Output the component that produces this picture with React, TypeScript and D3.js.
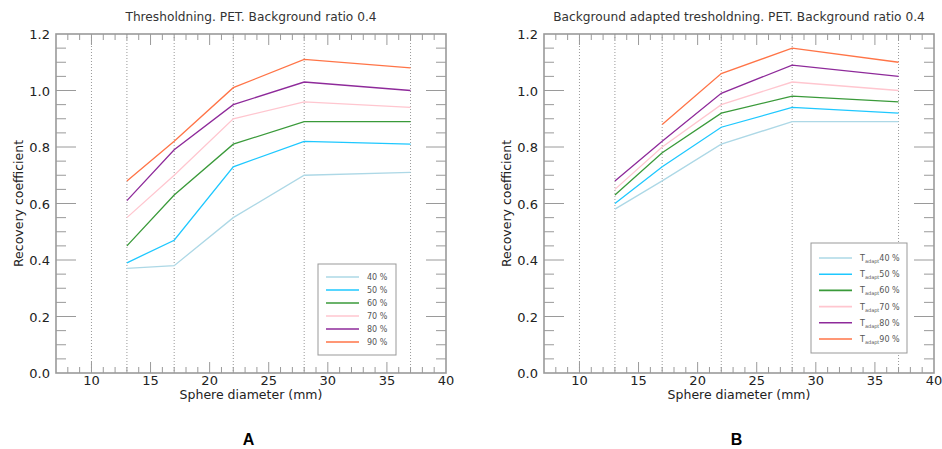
import * as d3 from 'd3';
import React from 'react';

const diameters = [13, 17, 22, 28, 37];
const gridLines = [10, 13, 17, 22, 28, 37];
const levels = ['40 %', '50 %', '60 %', '70 %', '80 %', '90 %'];
const colors = ['#add8e6', '#1ec8ff', '#3a9a3a', '#ffc6cf', '#8e2a9a', '#ff7447'];

// Panel A: fixed thresholding
const thrValues = [
    [0.37, 0.38, 0.55, 0.70, 0.71],
    [0.39, 0.47, 0.73, 0.82, 0.81],
    [0.45, 0.63, 0.81, 0.89, 0.89],
    [0.55, 0.70, 0.90, 0.96, 0.94],
    [0.61, 0.79, 0.95, 1.03, 1.00],
    [0.68, 0.82, 1.01, 1.11, 1.08],
];

// Panel B: background adapted thresholding (90 % has no value at 13 mm)
const adaptValues = [
    [0.58, 0.68, 0.81, 0.89, 0.89],
    [0.60, 0.73, 0.87, 0.94, 0.92],
    [0.63, 0.78, 0.92, 0.98, 0.96],
    [0.65, 0.80, 0.95, 1.03, 1.00],
    [0.68, 0.82, 0.99, 1.09, 1.05],
    [null, 0.88, 1.06, 1.15, 1.10],
];

const xTicks = [10, 15, 20, 25, 30, 35, 40];
const yTicks = [0, 0.2, 0.4, 0.6, 0.8, 1.0, 1.2];

const FONT = 'DejaVu Sans, Verdana, sans-serif';

function Panel({ left, title, values, adapted, legend, letter }) {
    const top = 34, bottom = 373, width = 390;
    const x = d3.scaleLinear().domain([7, 40]).range([left, left + width]);
    const y = d3.scaleLinear().domain([0, 1.2]).range([bottom, top]);
    const line = d3.line()
        .defined(d => d[1] != null)
        .x(d => x(d[0]))
        .y(d => y(d[1]));

    const minorX = d3.range(8, 40);
    const minorY = d3.range(0.05, 1.2, 0.05);
    const axisGray = '#9a9a9a';

    return (
        <g>
            <text x={x(23.5)} y={21} textAnchor="middle" fontSize={12.2} fill="#333" fontFamily={FONT}>{title}</text>
            {gridLines.map(g => (
                <line key={'g' + g} x1={x(g)} x2={x(g)} y1={top} y2={bottom}
                    stroke="#999" strokeWidth={1} strokeDasharray="1,2" />
            ))}
            {minorX.map(t => {
                const major = t % 5 === 0;
                const len = major ? 11 : 6;
                return (
                    <g key={'mx' + t}>
                        <line x1={x(t)} x2={x(t)} y1={bottom} y2={bottom - len} stroke={axisGray} />
                        <line x1={x(t)} x2={x(t)} y1={top} y2={top + len} stroke={axisGray} />
                    </g>
                );
            })}
            {minorY.map((t, i) => {
                const major = (i + 1) % 4 === 0;
                const len = major ? 20 : 10;
                return (
                    <g key={'my' + i}>
                        <line x1={left} x2={left + len} y1={y(t)} y2={y(t)} stroke={axisGray} />
                        <line x1={left + width} x2={left + width - len} y1={y(t)} y2={y(t)} stroke={axisGray} />
                    </g>
                );
            })}
            <rect x={left} y={top} width={width} height={bottom - top} fill="none" stroke={axisGray} strokeWidth={1.6} />
            {values.map((row, i) => (
                <path key={'s' + i} d={line(diameters.map((dm, j) => [dm, row[j]]))}
                    fill="none" stroke={colors[i]} strokeWidth={1.3} />
            ))}
            {xTicks.map(t => (
                <text key={'xt' + t} x={x(t)} y={385} textAnchor="middle" fontSize={13} fill="#222" fontFamily={FONT}>{t}</text>
            ))}
            {yTicks.map(t => (
                <text key={'yt' + t} x={left - 6} y={y(t) + 5} textAnchor="end" fontSize={13} fill="#222" fontFamily={FONT}>{t.toFixed(1)}</text>
            ))}
            <text x={x(23.5)} y={399} textAnchor="middle" fontSize={12.5} fill="#222" fontFamily={FONT}>Sphere diameter (mm)</text>
            <text transform={`translate(${left - 33},${y(0.6)}) rotate(-90)`} textAnchor="middle" fontSize={12.5} fill="#222" fontFamily={FONT}>Recovery coefficient</text>
            <g>
                <rect x={legend.x} y={legend.y} width={legend.w} height={legend.h} fill="#fff" stroke="#999" strokeWidth={1} />
                {levels.map((lv, i) => {
                    const ly = legend.y + legend.first + i * legend.step;
                    return (
                        <g key={'l' + i}>
                            <line x1={legend.x + 8} x2={legend.x + 41} y1={ly} y2={ly} stroke={colors[i]} strokeWidth={1.6} />
                            {adapted ? (
                                <text x={legend.x + 49} y={ly + 3} fontSize={8} fill="#555" fontFamily={FONT}>
                                    T<tspan fontSize={5} dy={2}>adapt</tspan><tspan dy={-2}>{lv}</tspan>
                                </text>
                            ) : (
                                <text x={legend.x + 49} y={ly + 3} fontSize={8} fill="#555" fontFamily={FONT}>{lv}</text>
                            )}
                        </g>
                    );
                })}
            </g>
            <text x={x(23.3)} y={445} textAnchor="middle" fontSize={16} fontWeight="bold" fill="#000" fontFamily="Liberation Sans, Arial, sans-serif">{letter}</text>
        </g>
    );
}

export default function App() {
    return (
        <svg width={942} height={449} style={{ position: 'absolute', left: 0, top: 0 }}>
            <rect width={942} height={449} fill="#fff" />
            <Panel left={56} title="Thresholdning. PET. Background ratio 0.4" values={thrValues} adapted={false}
                legend={{ x: 318, y: 264, w: 78, h: 91, first: 13, step: 13 }} letter="A" />
            <Panel left={544} title="Background adapted tresholdning. PET. Background ratio 0.4" values={adaptValues} adapted={true}
                legend={{ x: 811, y: 243, w: 96, h: 110, first: 15, step: 16.2 }} letter="B" />
        </svg>
    );
}
